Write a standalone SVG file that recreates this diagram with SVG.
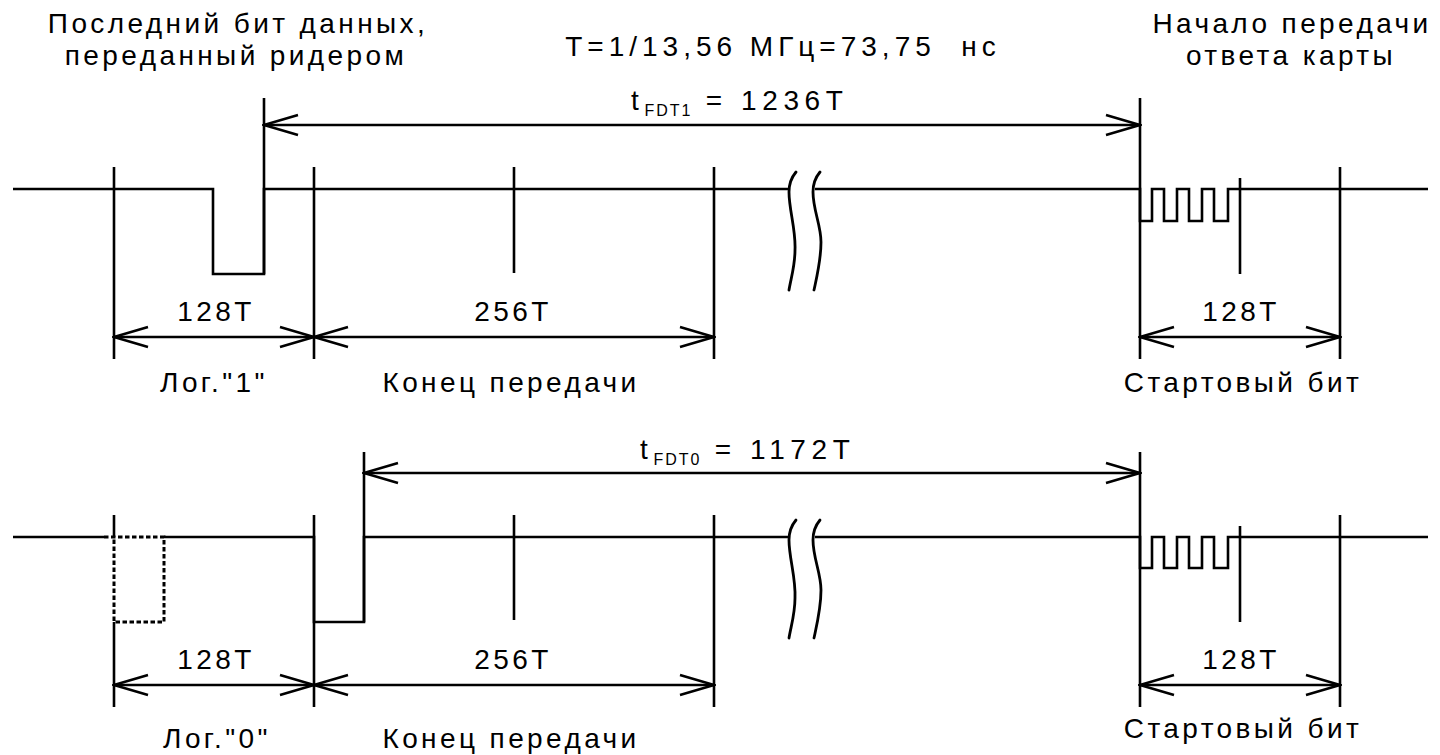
<svg xmlns="http://www.w3.org/2000/svg" width="1440" height="755" viewBox="0 0 1440 755">
<style>
.ln{fill:none;stroke:#000;stroke-width:2.6;stroke-linecap:butt;stroke-linejoin:miter}
.dash{fill:none;stroke:#000;stroke-width:3;stroke-dasharray:4.5,2.5}
.brk{fill:none;stroke:#000;stroke-width:2.8;stroke-linecap:round}
.dim{fill:none;stroke:#000;stroke-width:2.6;marker-start:url(#ah);marker-end:url(#ah)}
text{font-family:"Liberation Sans",Arial,sans-serif;font-size:28px;fill:#000;letter-spacing:3.4px}
.m{text-anchor:middle}
.w{letter-spacing:5px}
.t{letter-spacing:5.6px}
.sub{font-size:16px;letter-spacing:2px}
</style>
<defs>
<marker id="ah" viewBox="-36 -12 38 24" refX="0" refY="0" markerWidth="38" markerHeight="24" markerUnits="userSpaceOnUse" orient="auto-start-reverse">
<path d="M-34,-10 L0,0 L-34,10" fill="none" stroke="#000" stroke-width="2.6"/>
</marker>
</defs>
<rect width="1440" height="755" fill="#fff"/>

<g id="labels-top">
<text class="m" x="238" y="33">Последний бит данных,</text>
<text class="m" x="236" y="65">переданный ридером</text>
<text class="m w" x="783" y="56" xml:space="preserve">T=1/13,56 МГц=73,75  нс</text>
<text class="m" x="1292" y="33">Начало передачи</text>
<text class="m" x="1291" y="65">ответа карты</text>
</g>

<g id="connectors">
<!-- row 1 signal -->
<path class="ln" d="M13,189 H213 V274 H264 V189 H789"/>
<path class="ln" d="M815,189 H1140 V221 H1152 V189 H1164 V221 H1177 V189 H1189 V221 H1202 V189 H1214 V221 H1228 V189 H1428"/>
<path class="brk" d="M796,172 C791,178 789,184 789,192 C789,210 796,230 795,250 C795,266 791,278 789,290"/>
<path class="brk" d="M820,172 C815,178 813,184 813,192 C813,210 821,225 821,242 C821,260 817,276 814,290"/>
<!-- row 1 ticks -->
<path class="ln" d="M114,167 V359 M314,167 V359 M514,167 V273 M714,167 V359 M264,98 V274 M1140,98 V359 M1240,178 V274 M1340,167 V359"/>
<!-- row 1 dims -->
<path class="dim" d="M264,125 H1140"/>
<path class="dim" d="M114,337 H314"/>
<path class="dim" d="M314,337 H714"/>
<path class="dim" d="M1140,337 H1340"/>

<!-- row 2 signal -->
<path class="ln" d="M13,537 H104"/>
<path class="dash" d="M104,537 H164 V622 H114 V537"/>
<path class="ln" d="M164,537 H314 V622 H364 V537 H789"/>
<path class="brk" d="M796,520 C791,526 789,532 789,540 C789,558 796,578 795,598 C795,614 791,626 789,638"/>
<path class="brk" d="M820,520 C815,526 813,532 813,540 C813,558 821,573 821,590 C821,608 817,624 814,638"/>
<path class="ln" d="M815,537 H1140 V568 H1152 V537 H1164 V568 H1177 V537 H1189 V568 H1202 V537 H1214 V568 H1228 V537 H1428"/>
<!-- row 2 ticks -->
<path class="ln" d="M114,515 V537 M114,622 V707 M314,515 V707 M514,515 V620 M714,515 V707 M364,452 V622 M1140,452 V707 M1240,526 V622 M1340,515 V707"/>
<!-- row 2 dims -->
<path class="dim" d="M364,473 H1140"/>
<path class="dim" d="M114,685 H314"/>
<path class="dim" d="M314,685 H714"/>
<path class="dim" d="M1140,685 H1340"/>
</g>

<g id="row1-labels">
<text class="t" x="631" y="110">t<tspan class="sub" dy="6">FDT1</tspan><tspan dy="-6"> = 1236T</tspan></text>
<text class="m" x="216" y="321">128T</text>
<text class="m" x="513" y="321">256T</text>
<text class="m" x="1241" y="321">128T</text>
<text class="m" x="214" y="392">Лог."1"</text>
<text class="m" x="511" y="392">Конец передачи</text>
<text class="m" x="1243" y="392">Стартовый бит</text>
</g>

<g id="row2-labels">
<text class="t" x="640" y="459">t<tspan class="sub" dy="6">FDT0</tspan><tspan dy="-6"> = 1172T</tspan></text>
<text class="m" x="216" y="669">128T</text>
<text class="m" x="513" y="669">256T</text>
<text class="m" x="1241" y="669">128T</text>
<text class="m" x="217" y="748">Лог."0"</text>
<text class="m" x="511" y="748">Конец передачи</text>
<text class="m" x="1243" y="738">Стартовый бит</text>
</g>
</svg>
